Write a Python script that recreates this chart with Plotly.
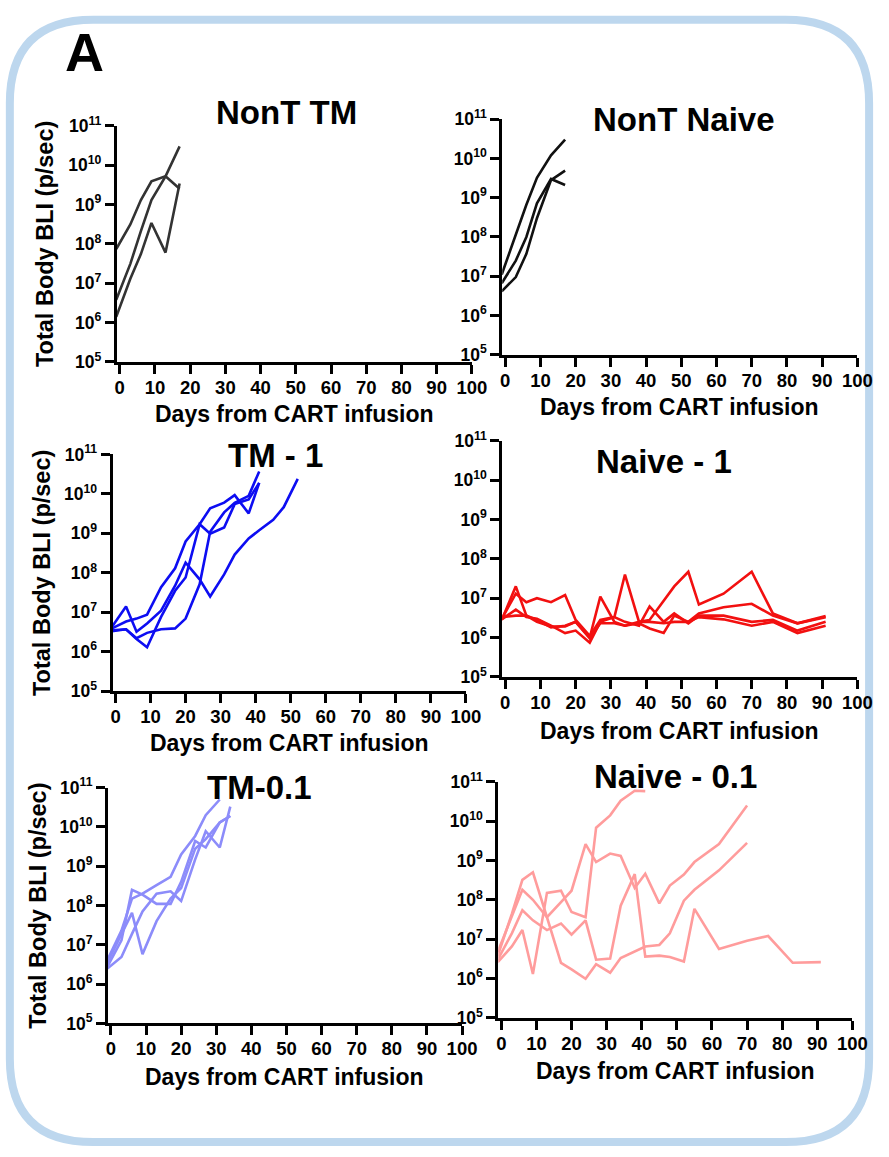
import plotly.graph_objects as go

W, H = 889, 1157

# ---------------- data ----------------
days_nont = [-1, 3, 6, 9, 13, 17]
nont_tm = [
    [7.4e7, 3.1e8, 1.3e9, 3.9e9, 5.2e9, 2.5e9],
    [3.8e6, 3.1e7, 2.1e8, 1.3e9, 5.2e9, 3.0e10],
    [1.4e6, 1.3e7, 5.5e7, 3.4e8, 6.0e7, 3.4e9],
]
nont_naive = [
    [1.1e7, 1.2e8, 6.6e8, 3.2e9, 1.2e10, 3.0e10],
    [6.6e6, 2.5e7, 1.0e8, 7.2e8, 3.0e9, 2.1e9],
    [4.1e6, 9.5e6, 3.7e7, 3.0e8, 2.8e9, 4.9e9],
]

days_tm1 = [-1, 3, 6, 9, 13, 17, 20, 24, 27, 31, 34, 38, 41, 45, 48, 52]
tm_1 = [
    [3.9e6, 5.8e6, 6.9e6, 8.7e6, 4.3e7, 1.3e8, 6.2e8, 1.7e9, 4.3e9, 6.0e9, 9.3e9, 3.2e9, 1.9e10],
    [4.3e6, 1.4e7, 3.2e6, 5.2e6, 1.1e7, 4.7e7, 1.8e8, 6.8e7, 2.5e7, 9.1e7, 2.9e8, 7.4e8, 1.2e9, 2.2e9, 4.6e9, 2.4e10],
    [3.5e6, 3.7e6, 2.1e6, 1.3e6, 7.6e6, 3.5e7, 7.6e7, 1.7e9, 9.8e8, 1.4e9, 5.5e9, 7.2e9, 1.9e10],
    [3.3e6, 3.7e6, 2.2e6, 3.0e6, 3.7e6, 3.9e6, 6.9e6, 5.1e7, 1.1e9, 3.4e9, 5.9e9, 8.9e9, 3.7e10],
]

days_naive = [-1, 3, 6, 9, 13, 17, 20, 24, 27, 31, 34, 38, 41, 45, 48, 52, 55, 62, 70, 76, 83, 91]
naive_1 = [
    [2.8e6, 2.0e7, 3.6e6, 2.5e6, 1.9e6, 1.9e6, 2.5e6, 1.0e6, 1.1e7, 2.5e6, 2.0e6, 2.5e6, 2.8e6, 8.7e6, 2.0e7, 4.7e7, 6.9e6, 1.3e7, 4.7e7, 4.1e6, 2.3e6, 3.3e6],
    [3.0e6, 1.3e7, 7.9e6, 1.0e7, 7.9e6, 1.2e7, 2.8e6, 1.1e6, 2.8e6, 3.3e6, 4.0e7, 2.5e6, 2.5e6, 2.3e6, 2.5e6, 2.5e6, 4.1e6, 5.9e6, 7.2e6, 3.6e6, 2.3e6, 3.5e6],
    [2.9e6, 5.1e6, 3.3e6, 3.0e6, 2.0e6, 1.3e6, 1.5e6, 7.4e5, 2.5e6, 3.3e6, 2.5e6, 2.0e6, 6.2e6, 2.5e6, 4.1e6, 2.3e6, 3.6e6, 3.6e6, 2.5e6, 2.8e6, 1.5e6, 2.5e6],
    [3.3e6, 3.6e6, 3.6e6, 2.8e6, 1.8e6, 2.0e6, 2.5e6, 9.5e5, 2.3e6, 2.3e6, 2.0e6, 2.3e6, 1.7e6, 1.3e6, 3.6e6, 2.5e6, 3.3e6, 2.9e6, 2.0e6, 2.5e6, 1.3e6, 2.0e6],
]

days_tm01 = [-1, 3, 6, 9, 13, 17, 20, 24, 27, 31, 34]
tm_01 = [
    [4.1e6, 2.3e7, 1.5e8, 2.0e8, 3.3e8, 5.4e8, 2.0e9, 5.9e9, 2.0e10, 5.0e10],
    [2.8e6, 1.3e7, 2.5e8, 1.9e8, 1.1e8, 1.1e8, 4.0e8, 4.4e9, 3.0e9, 1.3e10, 1.9e10],
    [3.5e6, 1.9e7, 6.5e7, 5.8e6, 4.0e7, 1.5e8, 2.8e8, 2.8e9, 4.9e9, 1.3e10, 1.9e10],
    [2.5e6, 4.9e6, 1.9e7, 7.1e7, 2.0e8, 2.3e8, 1.3e8, 1.5e9, 7.8e9, 3.0e9, 3.3e10],
]

naive_01 = [
    [2.6e6, 6.5e6, 1.7e7, 1.3e6, 1.5e8, 1.7e8, 4.9e7, 3.6e7, 6.8e9, 1.4e10, 3.3e10, 5.9e10, 5.8e10],
    [3.8e6, 4.4e7, 3.2e8, 5.0e8, 3.6e7, 2.5e6, 1.7e6, 9.8e5, 2.3e6, 1.4e6, 3.3e6, 4.8e6, 6.5e6, 7.1e6, 1.4e7, 9.5e7, 1.8e8, 5.6e8, 2.8e9],
    [4.8e6, 3.6e7, 1.8e8, 1.0e8, 3.6e7, 8.7e7, 1.7e8, 2.6e9, 9.1e8, 1.5e9, 1.3e9, 2.0e8, 4.6e8, 8.1e7, 2.3e8, 4.4e8, 9.1e8, 2.6e9, 2.5e10],
    [3.0e6, 1.4e7, 5.4e7, 3.0e7, 1.7e7, 2.5e7, 1.3e7, 3.0e7, 3.0e6, 3.2e6, 7.1e7, 4.5e8, 3.6e6, 3.8e6, 3.5e6, 2.7e6, 5.9e7, 5.6e6, 9.1e6, 1.2e7, 2.5e6, 2.6e6],
]

x_ticks = [0, 10, 20, 30, 40, 50, 60, 70, 80, 90, 100]
y_tickvals = [1e5, 1e6, 1e7, 1e8, 1e9, 1e10, 1e11]
y_ticktext = ["10<sup>5</sup>", "10<sup>6</sup>", "10<sup>7</sup>", "10<sup>8</sup>",
              "10<sup>9</sup>", "10<sup>10</sup>", "10<sup>11</sup>"]

titles = ["NonT TM", "NonT Naive", "TM - 1", "Naive - 1", "TM-0.1", "Naive - 0.1"]
x_title = "Days from CART infusion"
y_title = "Total Body BLI (p/sec)"

# ---------------- layout geometry (pixels) ----------------
panels = [
    dict(x0=117, x1=479, yt=116, yb=356.7, tx=290, ty=102, xty=410, ytx=44, days=days_nont, data=nont_tm, color="#333333"),
    dict(x0=510, x1=872, yt=109.3, yb=349.3, tx=695, ty=110, xty=403, ytx=None, days=days_nont, data=nont_naive, color="#111111"),
    dict(x0=112.7, x1=473, yt=451, yb=692.3, tx=279, ty=452, xty=745, ytx=41, days=days_tm1, data=tm_1, color="#0d0df2"),
    dict(x0=510, x1=872, yt=437.3, yb=677.7, tx=675, ty=458, xty=733, ytx=None, days=days_naive, data=naive_1, color="#f21010"),
    dict(x0=108, x1=469, yt=790.7, yb=1031, tx=263, ty=791, xty=1086, ytx=36, days=days_tm01, data=tm_01, color="#8c8cfa"),
    dict(x0=506, x1=867, yt=784.7, yb=1025.3, tx=687, ty=779, xty=1080, ytx=None, days=days_naive, data=naive_01, color="#ff9c9c"),
]

FONT = "Liberation Sans, Arial, Helvetica, sans-serif"

fig = go.Figure()
layout = dict(width=W, height=H, margin=dict(l=0, r=0, t=0, b=0),
              paper_bgcolor="white", plot_bgcolor="white", showlegend=False,
              font=dict(family=FONT, color="black"))
annotations = []

def px(x):
    return x / W

def py(y):
    return 1 - y / H

for i, p in enumerate(panels, start=1):
    xa = "x" if i == 1 else f"x{i}"
    ya = "y" if i == 1 else f"y{i}"
    for series in p["data"]:
        fig.add_trace(go.Scatter(x=p["days"][:len(series)], y=series, mode="lines",
                                 line=dict(color=p["color"], width=2.6),
                                 xaxis=xa, yaxis=ya, hoverinfo="skip"))
    xkey = "xaxis" if i == 1 else f"xaxis{i}"
    ykey = "yaxis" if i == 1 else f"yaxis{i}"
    layout[xkey] = dict(domain=[px(p["x0"]), px(p["x1"])], anchor=ya, range=[-0.85, 100],
                        showline=True, linecolor="black", linewidth=2.8, ticks="outside",
                        ticklen=9, tickwidth=2.8, tickcolor="black", tickvals=x_ticks,
                        ticklabelstandoff=-2,
                        tickfont=dict(family=FONT, size=18.5, color="black", weight="bold"),
                        showgrid=False, zeroline=False)
    layout[ykey] = dict(domain=[py(p["yb"]), py(p["yt"])], anchor=xa, type="log", range=[5, 11],
                        showline=True, linecolor="black", linewidth=2.8, ticks="outside",
                        ticklen=9, tickwidth=2.8, tickcolor="black", tickvals=y_tickvals,
                        ticktext=y_ticktext,
                        tickfont=dict(family=FONT, size=17.5, color="black", weight="bold"),
                        showgrid=False, zeroline=False)
    annotations.append(dict(text=f"<b>{titles[i-1]}</b>", x=px(p["tx"]), y=py(p["ty"]),
                            xref="paper", yref="paper", showarrow=False, xanchor="center",
                            yanchor="middle", font=dict(family=FONT, size=33, color="black")))
    annotations.append(dict(text=f"<b>{x_title}</b>", x=px((p["x0"] + p["x1"]) / 2), y=py(p["xty"]),
                            xref="paper", yref="paper", showarrow=False, xanchor="center",
                            yanchor="middle", font=dict(family=FONT, size=23, color="black")))
    if p["ytx"] is not None:
        annotations.append(dict(text=f"<b>{y_title}</b>", x=px(p["ytx"]), y=py((p["yt"] + p["yb"]) / 2),
                                xref="paper", yref="paper", showarrow=False, textangle=-90,
                                xanchor="center", yanchor="middle",
                                font=dict(family=FONT, size=23.5, color="black")))

annotations.append(dict(text="<b>A</b>", x=px(84), y=py(41), xref="paper", yref="paper",
                        showarrow=False, xanchor="center", yanchor="middle",
                        font=dict(family=FONT, size=54, color="black")))

# rounded border
L, R, T, B, r = 8, 884, 8, 1152, 85
path = (f"M {px(L + r)},{py(T)} L {px(R - r)},{py(T)} Q {px(R)},{py(T)} {px(R)},{py(T + r)} "
        f"L {px(R)},{py(B - r)} Q {px(R)},{py(B)} {px(R - r)},{py(B)} "
        f"L {px(L + r)},{py(B)} Q {px(L)},{py(B)} {px(L)},{py(B - r)} "
        f"L {px(L)},{py(T + r)} Q {px(L)},{py(T)} {px(L + r)},{py(T)} Z")
layout["shapes"] = [dict(type="path", path=path, xref="paper", yref="paper",
                         line=dict(color="#bdd7ee", width=8), fillcolor="rgba(0,0,0,0)", layer="below")]
layout["annotations"] = annotations
fig.update_layout(**layout)
fig.write_html("out.html")
